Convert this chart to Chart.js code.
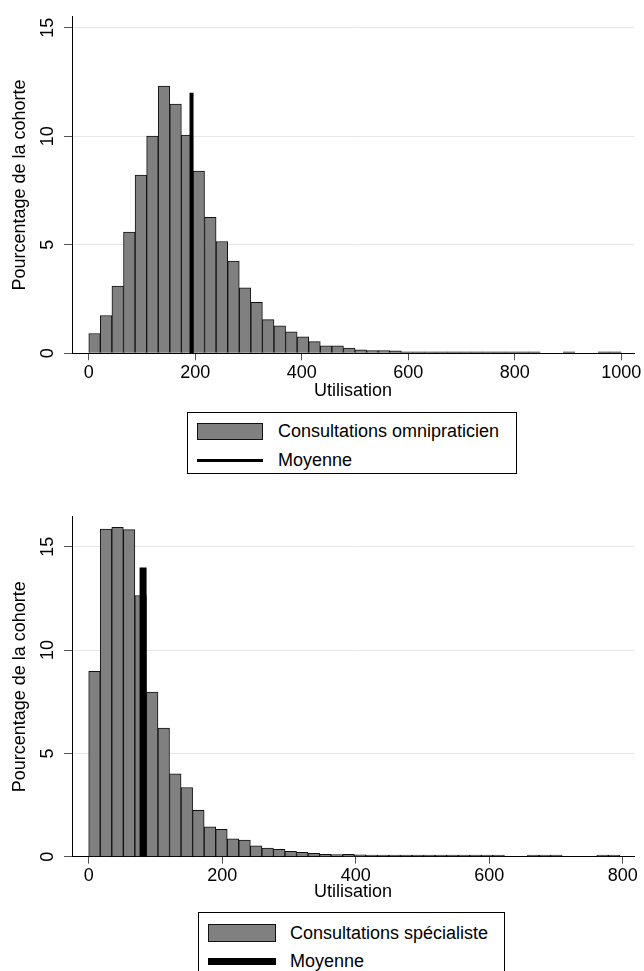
<!DOCTYPE html>
<html>
<head>
<meta charset="utf-8">
<script src="https://cdn.jsdelivr.net/npm/chart.js@4.4.1/dist/chart.umd.min.js"></script>
<style>
    html, body { margin: 0; padding: 0; background: #fff; overflow: hidden; }
    body { width: 644px; height: 971px; position: relative; font-family: "Liberation Sans", Arial, sans-serif; }
    canvas { position: absolute; left: 0; }
    .legend { position: absolute; border: 1px solid #000; background: #fff; box-sizing: border-box; }
    .legend .swatch { position: absolute; box-sizing: border-box; background: #808080; border: 1px solid #111; }
    .legend .line { position: absolute; background: #000; }
    .legend .text { position: absolute; font-size: 18px; line-height: 20px; color: #000; white-space: nowrap; }
</style>
</head>
<body>
<canvas id="omniChart" width="644" height="405" style="top:0"></canvas>
<div class="legend" id="omniLegend" style="left:187px; top:412px; width:330px; height:62px;"></div>

<canvas id="specChart" width="644" height="405" style="top:500px"></canvas>
<div class="legend" id="specLegend" style="left:198px; top:912px; width:307px; height:76px;"></div>

<script>
// Consultations omnipraticien: % de la cohorte par classe (46 classes)
const omniLabel = 'Consultations omnipraticien';
const omniBinWidth = 21.74;
const omniPct = [
    0.91, 1.74, 3.10, 5.58, 8.21, 10.0, 12.31, 11.48, 10.05, 8.39,
    6.26, 5.15, 4.25, 3.01, 2.35, 1.55, 1.26, 0.99, 0.76, 0.54,
    0.34, 0.34, 0.24, 0.16, 0.13, 0.13, 0.11, 0.06, 0.06, 0.05,
    0.04, 0.04, 0.04, 0.03, 0.03, 0.02, 0.02, 0.02, 0.02, null,
    null, 0.02, null, null, 0.02, 0.02
];
const omniMean = 193;
const omniMeanTop = 12;
const omniTicksX = [0, 200, 400, 600, 800, 1000];

// Consultations spécialiste
const specLabel = 'Consultations spécialiste';
const specBinWidth = 17.3;
const specPct = [
    8.97, 15.86, 15.94, 15.83, 12.64, 7.97, 6.22, 4.01, 3.35, 2.24,
    1.45, 1.32, 0.86, 0.80, 0.53, 0.42, 0.36, 0.26, 0.21, 0.16,
    0.12, 0.10, 0.11, 0.09, 0.08, 0.05, 0.05, 0.04, 0.04, 0.03,
    0.03, 0.03, 0.02, 0.02, 0.02, 0.02, null, null, 0.02, 0.02,
    0.02, null, null, null, 0.02, 0.02
];
const specMean = 81.5;
const specMeanTop = 14;
const specTicksX = [0, 200, 400, 600, 800];

const yTicks = [0, 5, 10, 15];
const meanLabel = 'Moyenne';
const xTitle = 'Utilisation';
const yTitle = 'Pourcentage de la cohorte';

Chart.defaults.font.family = '"Liberation Sans", Arial, sans-serif';
Chart.defaults.color = '#000';

function makeHistogram(canvasId, opts) {
    const ctx = document.getElementById(canvasId).getContext('2d');
    return new Chart(ctx, {
        type: 'bar',
        data: {
            datasets: [{
                type: 'line',
                label: meanLabel,
                data: [{ x: opts.mean, y: 0 }, { x: opts.mean, y: opts.meanTop }],
                borderColor: '#000',
                borderWidth: opts.meanWidth,
                borderCapStyle: 'butt',
                pointRadius: 0,
                fill: false,
                order: 1
            }, {
                type: 'bar',
                label: opts.label,
                data: opts.pct.map((v, i) => ({ x: (i + 0.5) * opts.binWidth, y: v })),
                backgroundColor: '#808080',
                borderColor: '#111',
                borderWidth: 1,
                barPercentage: 1,
                categoryPercentage: 1,
                minBarLength: 1.5,
                order: 2
            }]
        },
        options: {
            responsive: false,
            animation: false,
            devicePixelRatio: 1,
            layout: { padding: { top: opts.padTop, right: 10, left: 0, bottom: 0 } },
            plugins: { legend: { display: false }, tooltip: { enabled: false } },
            scales: {
                x: {
                    type: 'linear',
                    min: opts.xMin,
                    max: opts.xMax,
                    offset: false,
                    afterBuildTicks: s => { s.ticks = opts.xTicks.map(v => ({ value: v })); },
                    afterFit: s => { s.height = opts.xAxisHeight; },
                    border: { color: '#000', width: 1 },
                    grid: { offset: false, drawOnChartArea: false, tickColor: '#555', tickLength: 7 },
                    ticks: {
                        font: { size: 18 }, color: '#000', padding: 2, autoSkip: false,
                        minRotation: 0, maxRotation: 0,
                        callback: v => String(v)
                    },
                    title: { display: true, text: xTitle, font: { size: 18 }, color: '#000', padding: { top: 0, bottom: opts.xTitlePad } }
                },
                y: {
                    min: 0,
                    max: opts.yMax,
                    afterBuildTicks: s => { s.ticks = yTicks.map(v => ({ value: v })); },
                    afterFit: s => { s.width = 72; },
                    border: { color: '#000', width: 1 },
                    grid: { color: '#e6e6e6', tickColor: '#555', tickLength: 8 },
                    ticks: { font: { size: 18 }, color: '#000', minRotation: 90, maxRotation: 90, crossAlign: 'center', padding: 6 },
                    title: { display: true, text: yTitle, font: { size: 18 }, color: '#000', padding: { top: 9, bottom: 0 } }
                }
            }
        }
    });
}

// Legend box: shaded swatch for the histogram, black bar for the mean
function buildLegend(boxId, label, lay) {
    const box = document.getElementById(boxId);
    box.innerHTML =
        '<div class="swatch" style="left:' + lay.swLeft + 'px; top:' + (lay.row1 - lay.swH / 2) + 'px; width:' + lay.swW + 'px; height:' + lay.swH + 'px;"></div>' +
        '<div class="text" style="left:' + lay.textLeft + 'px; top:' + (lay.row1 - 10) + 'px;">' + label + '</div>' +
        '<div class="line" style="left:' + lay.swLeft + 'px; top:' + (lay.row2 - lay.lineW / 2) + 'px; width:' + lay.swW + 'px; height:' + lay.lineW + 'px;"></div>' +
        '<div class="text" style="left:' + lay.textLeft + 'px; top:' + (lay.row2 - 10) + 'px;">' + meanLabel + '</div>';
}

makeHistogram('omniChart', {
    label: omniLabel, pct: omniPct, binWidth: omniBinWidth,
    mean: omniMean, meanTop: omniMeanTop, meanWidth: 4,
    xTicks: omniTicksX, xMin: -31.5, xMax: 1024, yMax: 15.5,
    padTop: 13, xAxisHeight: 51.7, xTitlePad: 3
});
buildLegend('omniLegend', omniLabel, { swLeft: 9, swW: 66, swH: 17, textLeft: 90, row1: 18, row2: 47, lineW: 3 });

makeHistogram('specChart', {
    label: specLabel, pct: specPct, binWidth: specBinWidth,
    mean: specMean, meanTop: specMeanTop, meanWidth: 7,
    xTicks: specTicksX, xMin: -25, xMax: 817, yMax: 16.45,
    padTop: 16, xAxisHeight: 48.3, xTitlePad: 2
});
buildLegend('specLegend', specLabel, { swLeft: 9, swW: 68, swH: 18, textLeft: 91, row1: 20, row2: 48, lineW: 7 });
</script>
</body>
</html>
